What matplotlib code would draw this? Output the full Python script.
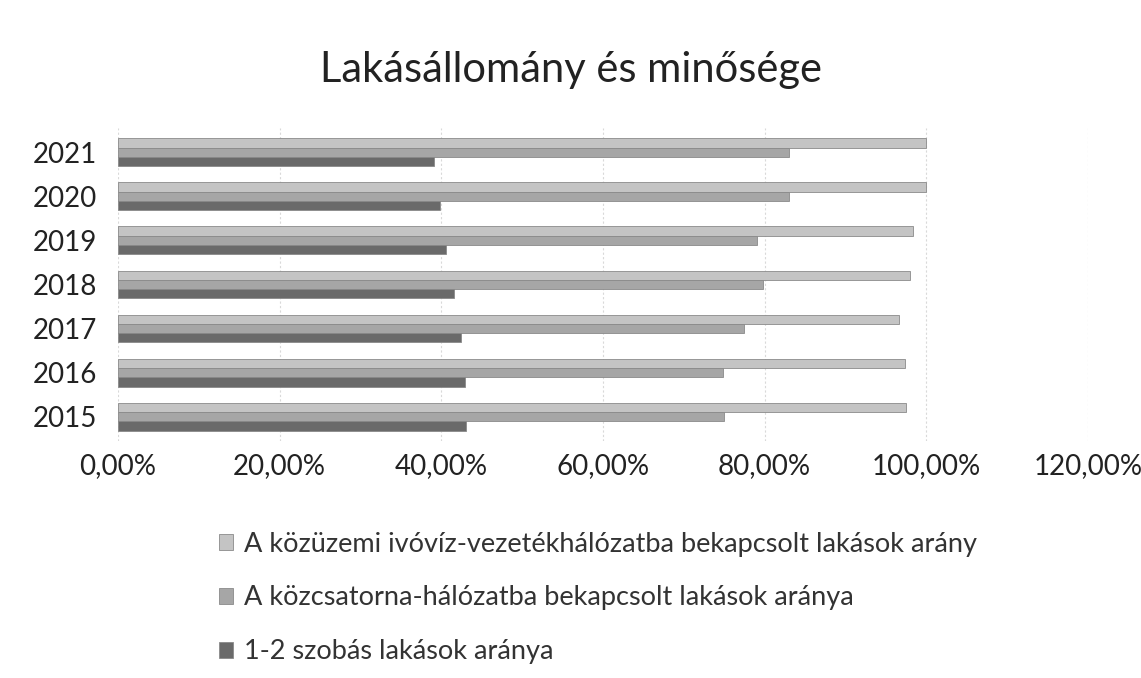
import numpy as np
import matplotlib
matplotlib.use("Agg")
from matplotlib import pyplot as plt
from matplotlib.ticker import FuncFormatter

plt.rcParams["font.family"] = ["Lato", "DejaVu Sans"]

# Évek
years = ["2015", "2016", "2017", "2018", "2019", "2020", "2021"]
# Sorozatok (%)
ivoviz = [97.5, 97.4, 96.6, 98.0, 98.4, 100.0, 100.0]
kozcsatorna = [75.0, 74.9, 77.5, 79.8, 79.1, 83.0, 83.0]
szobas = [43.0, 42.9, 42.4, 41.6, 40.6, 39.8, 39.1]

labels = [
    "A közüzemi ivóvíz-vezetékhálózatba bekapcsolt lakások arány",
    "A közcsatorna-hálózatba bekapcsolt lakások aránya",
    "1-2 szobás lakások aránya",
]
colors = ["#c4c4c4", "#a6a6a6", "#6a6a6a"]

fig = plt.figure(figsize=(11.41, 6.78), dpi=100)
ax = fig.add_axes([0.1034, 0.3496, 0.850, 0.4617])

y = np.arange(len(years))
h = 0.21
bars = []
for i, (vals, col) in enumerate(zip([ivoviz, kozcsatorna, szobas], colors)):
    b = ax.barh(y + (1 - i) * h, vals, height=h, color=col,
                edgecolor="#8a8a8a", linewidth=0.6, label=labels[i], zorder=2)
    bars.append(b)

ax.set_xlim(0, 120)
ax.set_xticks(np.arange(0, 121, 20))
ax.xaxis.set_major_formatter(FuncFormatter(lambda v, p: f"{v:.2f}%".replace(".", ",")))
ax.set_yticks(y)
ax.set_yticklabels(years)
ax.set_ylim(-0.55, len(years) - 0.45)
ax.grid(axis="x", color="#d9d9d9", linestyle=(0, (2, 2)), linewidth=0.8, zorder=0)
for s in ax.spines.values():
    s.set_visible(False)
ax.tick_params(length=0, labelsize=20, colors="#222222")
ax.tick_params(axis="x", pad=9)
ax.tick_params(axis="y", pad=15)

fig.text(0.5, 0.897, "Lakásállomány és minősége", ha="center", va="center",
         fontsize=30, color="#222222")

fig.legend(handles=bars, labels=labels, loc="upper left",
           bbox_to_anchor=(0.171, 0.252), frameon=False, fontsize=19.5,
           handlelength=0.5, handleheight=0.5, handletextpad=0.4,
           labelspacing=1.07, labelcolor="#333333")

fig.savefig("out.png", dpi=100)
